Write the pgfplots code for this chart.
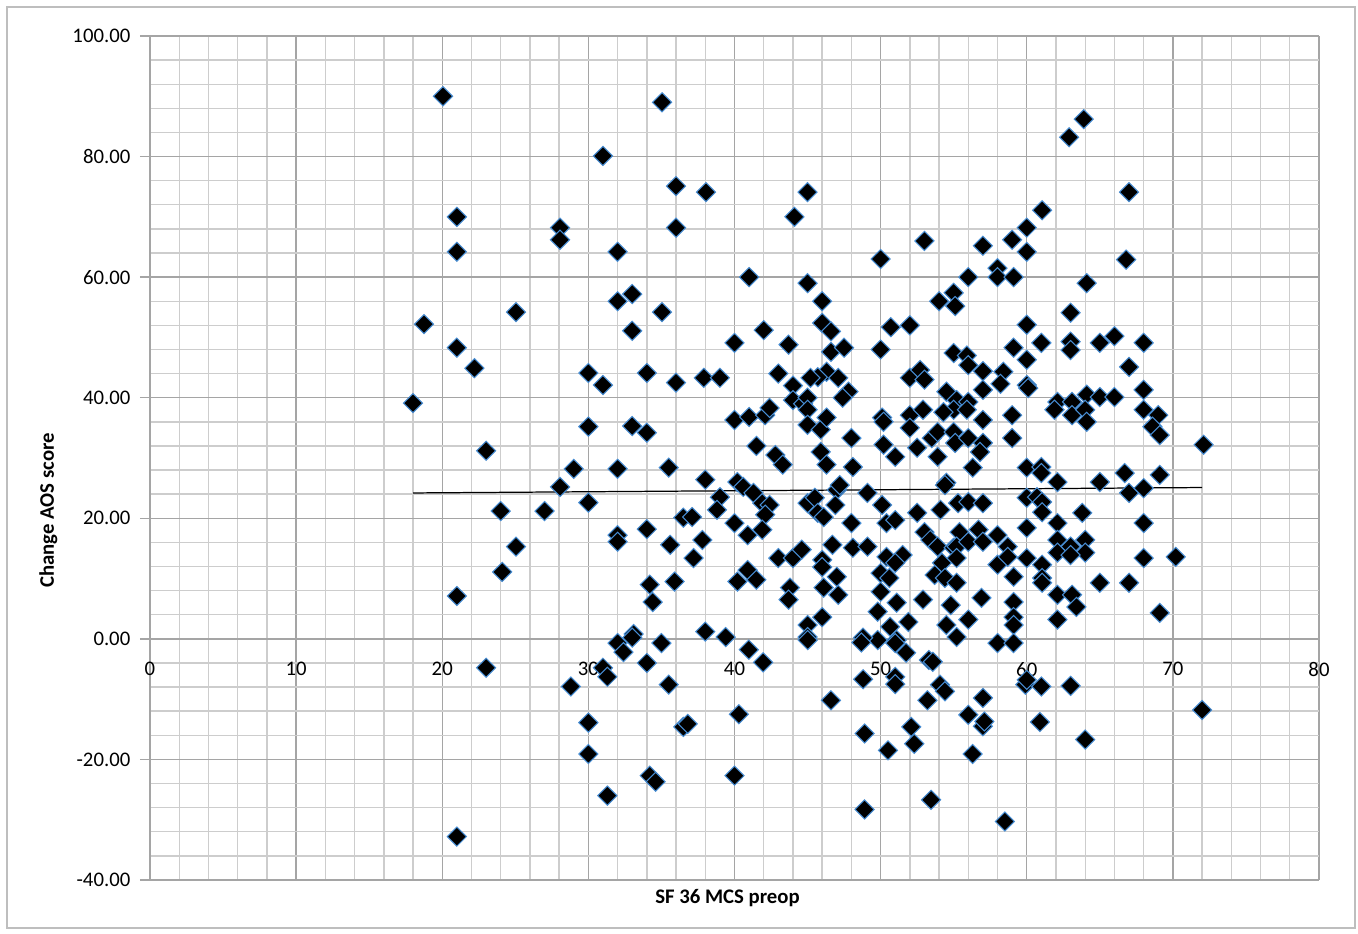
\documentclass[border=0pt]{standalone}
\usepackage{pgfplots}
\pgfplotsset{compat=1.18}
\usepackage{fontspec}
\setmainfont{Carlito}
\definecolor{mkedge}{RGB}{70,140,210}
\definecolor{gridminor}{RGB}{205,205,205}
\definecolor{gridmajor}{RGB}{165,165,165}
\definecolor{frameg}{RGB}{190,190,190}
\begin{document}
\begin{tikzpicture}
\path[use as bounding box] (-3.0,-1.08) rectangle (24.16,17.6);
\draw[frameg, line width=0.8pt] (-2.86,-0.96) rectangle (24.1,17.46);
\begin{axis}[
  scale only axis,
  width=23.38cm, height=16.88cm,
  xmin=0, xmax=80, ymin=-40, ymax=100,
  enlargelimits=false,
  axis x line=middle, axis y line=left,
  axis line style={-, gridmajor, line width=0.8pt},
  hide obscured x ticks=false, hide obscured y ticks=false,
  xtick distance=10, ytick distance=20,
  minor x tick num=4, minor y tick num=4,
  grid=both,
  minor grid style={gridminor, line width=0.8pt},
  major grid style={gridmajor, line width=0.8pt},
  xtick style={draw=none}, minor tick length=0pt,
  ytick style={gridmajor, line width=0.8pt}, major tick length=0.2cm, tick align=outside,
  /pgf/number format/assume math mode=true,
  yticklabel style={/pgf/number format/fixed, /pgf/number format/fixed zerofill, /pgf/number format/precision=2, xshift=-2pt},
  xticklabel style={/pgf/number format/fixed, /pgf/number format/precision=0, yshift=-4pt},
  tick label style={font=\fontsize{11.8}{14}\selectfont, text=black},
  xlabel={\bfseries SF 36 MCS preop},
  ylabel={\bfseries Change AOS score},
  label style={font=\fontsize{11.8}{14}\selectfont},
  xlabel style={at={(axis description cs:0.494,-0.021)}, anchor=center},
  ylabel style={at={(axis description cs:-0.087,0.438)}, anchor=center},
  clip=false,
]
\addplot[only marks, mark=square*, mark size=1.35mm,
  mark options={rotate=45, fill=black, draw=mkedge, line width=0.6pt}]
  table[row sep=\\] {
x y\\
18 39.1\\ 18.75 52.2\\ 20.05 90\\ 21 70\\ 21 64.2\\ 21 48.3\\ 21 7.1\\ 21 -32.8\\
22.2 44.9\\ 23 31.2\\ 23 -4.8\\ 24 21.2\\ 24.1 11.1\\ 25.05 54.2\\ 25.05 15.3\\ 27 21.2\\
28.06 68.2\\ 28.06 66.2\\ 28.06 25.2\\ 29 28.2\\ 28.8 -7.9\\ 30 44.1\\ 30 35.2\\ 30 22.6\\
30 -13.9\\ 30 -19.1\\ 31 80.1\\ 31 42.1\\ 31 -4.8\\ 31.3 -6.3\\ 31.3 -26\\ 32 64.2\\
32 56\\ 32 28.2\\ 32 17.2\\ 32 16.1\\ 32 -0.7\\ 32.4 -2.2\\ 33 57.2\\ 33 51.1\\
33 35.3\\ 33.1 0.8\\ 33 0.2\\ 34 44.1\\ 34 34.2\\ 34 18.2\\ 34.2 9\\ 34.4 6.1\\
34 -4\\ 34.2 -22.7\\ 34.6 -23.7\\ 35.04 89\\ 35.04 54.2\\ 35 -0.7\\ 35.5 -7.6\\ 35.5 28.4\\
35.6 15.6\\ 35.9 9.5\\ 36 75.1\\ 36 68.2\\ 36 42.5\\ 36.5 20.1\\ 36.5 -14.6\\ 36.8 -14.1\\
38.05 74.1\\ 45 74.1\\ 44.1 70\\
53 66\\ 50 63\\ 41 60\\ 45 59\\ 46 56\\ 54 56\\ 55 57.4\\ 55.1 55.2\\
46 52.4\\ 46.6 51\\ 42 51.2\\ 50.7 51.7\\ 52 52\\ 40 49.1\\ 43.7 48.8\\ 46.6 47.6\\
47.5 48.3\\ 50 48\\ 55 47.4\\ 55.9 47\\ 37.9 43.3\\ 39 43.3\\ 43 44\\ 46.3 44.3\\
47.1 43.3\\ 45.7 43.4\\ 44 42\\ 45.2 43.3\\ 47.8 41\\ 47.4 40\\ 52 43.3\\ 52.7 44.6\\
53 43\\ 54.5 41\\ 44 39.6\\ 44.7 39\\ 45 40\\ 45 38\\ 55.2 39.6\\ 55 38\\
54.3 37.6\\ 40 36.3\\ 41 36.8\\ 42.1 37.1\\ 42.4 38.3\\ 45 35.5\\ 45.9 34.7\\ 46.3 36.7\\
50.1 36.7\\ 50.2 36\\ 52 37.1\\ 52 35\\ 52.9 38\\ 53.5 33.3\\ 53.9 34.3\\ 55 34.3\\
55.1 32.5\\ 48 33.3\\ 41.5 32\\ 50.2 32.2\\ 51 30.2\\ 42.8 30.5\\ 43.3 28.9\\ 45.9 31\\
46.3 28.9\\ 48.1 28.5\\ 52.5 31.7\\ 53.9 30.2\\ 54.5 25.9\\ 38 26.4\\ 40.2 26\\ 40.6 25.2\\
41.3 24.2\\ 41.9 22.5\\ 42.4 22.2\\ 42.1 20.6\\ 39 23.5\\ 38.8 21.4\\ 37.1 20.2\\ 40 19.2\\
40.9 17.2\\ 41.9 18.1\\ 37.8 16.4\\ 37.2 13.4\\ 45 22.5\\ 45.5 23.4\\ 45.7 20.9\\ 46.1 20.2\\
47 24.7\\ 47.2 25.5\\ 46.9 22.2\\ 49.1 24.2\\ 50.1 22.2\\ 50.4 19.2\\ 51 19.7\\ 52.5 20.9\\
53 17.7\\ 53.4 16.4\\ 53.9 15.3\\ 54.1 21.4\\ 54.4 25.5\\ 55.3 22.5\\ 55.4 17.7\\ 55 15.1\\
48 19.2\\ 48.1 15.1\\ 49.1 15.3\\ 46.7 15.6\\ 43 13.4\\ 44 13.4\\ 44.6 14.8\\ 46 13.1\\
46 11.9\\ 50.4 13.6\\ 51.5 13.9\\ 51 12.6\\ 54.2 12.6\\ 55.2 15.3\\ 55.2 13.4\\ 40.9 11.4\\
41.5 9.8\\ 40.2 9.5\\ 43.8 8.5\\ 43.7 6.5\\ 47 10.3\\ 46.1 8.5\\ 47.1 7.3\\ 50 10.9\\
50.6 10.1\\ 50 7.8\\ 53.7 10.6\\ 54.4 10.1\\ 55.2 9.3\\ 52.9 6.5\\ 51.1 6\\ 49.8 4.5\\
54.8 5.6\\ 46 3.6\\ 45 2.3\\ 45 0.3\\ 50.65 2\\ 51.9 2.8\\ 51.1 -0.2\\ 49.8 -0.2\\
48.8 0.2\\ 38 1.2\\ 39.4 0.3\\ 54.5 2.3\\ 55.2 0.3\\
67 74.1\\ 61.05 71.1\\ 60 68.2\\ 59 66.2\\ 60 64.2\\ 57 65.2\\ 66.8 62.9\\ 56 60\\
58 61.5\\ 58 60\\ 59.1 60\\ 64.1 59\\ 63 54.1\\ 60 52.1\\ 61 49.1\\ 63 49.3\\
63 47.9\\ 65 49.1\\ 66 50.2\\ 68 49.1\\ 59.1 48.3\\ 60 46.3\\ 56 45.4\\ 67 45.1\\
57 44.4\\ 58.4 44.3\\ 58.2 42.3\\ 57 41.3\\ 60 42.1\\ 60.1 41.6\\ 68 41.3\\ 62.1 39.3\\
63.1 39.3\\ 64.1 40.5\\ 65 40.1\\ 66 40.1\\ 61.9 38\\ 63.1 37.1\\ 64 38\\ 64.1 36\\
56 39.3\\ 55.9 38\\ 68 38\\ 69 37.1\\ 68.6 35.2\\ 69.1 33.8\\ 72.1 32.2\\ 57 36.3\\
59 37.1\\ 56 33.3\\ 57 32.5\\ 56.8 31\\ 59 33.3\\ 56.3 28.4\\ 60 28.4\\ 61 28.5\\
61 27.5\\ 62.1 26\\ 65 26\\ 66.7 27.5\\ 69.1 27.2\\ 67 24.2\\ 68 25\\ 60 23.4\\
60.7 23.5\\ 61.05 22.7\\ 56 22.7\\ 57 22.5\\ 61.05 21\\ 62.1 19.2\\ 63.8 20.9\\ 68 19.2\\
60 18.4\\ 56.7 18.1\\ 56 16.1\\ 57 16.1\\ 58 17.2\\ 58.7 15.3\\ 62.1 16.4\\ 63 15.3\\
64 16.4\\ 64 14.3\\ 62.1 14.3\\ 63 13.9\\ 60 13.4\\ 61.05 12.3\\ 61.05 10.1\\ 61.05 9.3\\
58 12.3\\ 58.7 13.6\\ 59.1 10.3\\ 68 13.4\\ 70.2 13.6\\ 65 9.3\\ 67 9.3\\ 62.1 7.3\\
63.1 7.3\\ 63.4 5.3\\ 56.9 6.8\\ 59.1 6.1\\ 69.1 4.3\\ 56 3.2\\ 59.1 3.6\\ 59.1 2.3\\
62.1 3.2\\ 58 -0.7\\ 59.1 -0.7\\ 62.9 83.2\\ 63.9 86.2\\
40.98 -1.8\\ 41.96 -3.9\\ 48.68 -0.6\\ 51.0 -0.7\\ 51.74 -2.3\\ 45.01 -0.2\\ 48.8 -6.7\\ 46.6 -10.2\\
51 -6.3\\ 51 -7.5\\ 53.3 -3.5\\ 53.57 -3.8\\ 53.2 -10.2\\ 54.06 -7.6\\ 54.4 -8.7\\ 57 -9.8\\
56 -12.6\\ 57 -14.5\\ 57.1 -13.7\\ 59.9 -7.6\\ 60 -6.8\\ 61 -7.9\\ 63 -7.8\\ 60.9 -13.8\\
64 -16.7\\ 72 -11.8\\ 40.3 -12.5\\ 40 -22.7\\ 48.9 -15.7\\ 50.5 -18.5\\ 52.1 -14.6\\ 52.3 -17.4\\
56.3 -19.1\\ 48.9 -28.3\\ 53.45 -26.7\\ 58.5 -30.3\\
};
\addplot[black, line width=0.7pt, no marks] coordinates {(18,24.2) (72,25.1)};
\end{axis}
\end{tikzpicture}
\end{document}
